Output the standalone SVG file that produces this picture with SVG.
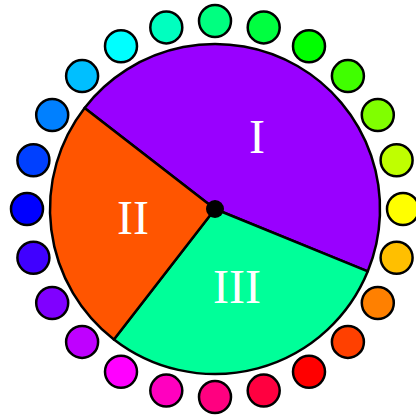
<svg xmlns="http://www.w3.org/2000/svg" width="416" height="418" viewBox="0 0 416 418">
<style>
.dot{stroke:#000;stroke-width:2.5}
.sec{stroke:#000;stroke-width:2.5;stroke-linejoin:round}
.lbl{font-family:"Liberation Serif","Times New Roman",serif;font-size:48px;fill:#fff;text-anchor:middle}
</style>
<rect width="416" height="418" fill="#fff"/>
<g id="ring">
<circle class="dot" cx="403" cy="209" r="16" fill="#ffff00"/>
<circle class="dot" cx="396.6" cy="257.7" r="16" fill="#ffbf00"/>
<circle class="dot" cx="377.8" cy="303" r="16" fill="#ff8000"/>
<circle class="dot" cx="347.9" cy="341.9" r="16" fill="#ff4000"/>
<circle class="dot" cx="309" cy="371.8" r="16" fill="#ff0000"/>
<circle class="dot" cx="263.7" cy="390.6" r="16" fill="#ff0040"/>
<circle class="dot" cx="215" cy="397" r="16" fill="#ff0080"/>
<circle class="dot" cx="166.3" cy="390.6" r="16" fill="#ff00bf"/>
<circle class="dot" cx="121" cy="371.8" r="16" fill="#ff00ff"/>
<circle class="dot" cx="82.1" cy="341.9" r="16" fill="#bf00ff"/>
<circle class="dot" cx="52.2" cy="303" r="16" fill="#8000ff"/>
<circle class="dot" cx="33.4" cy="257.7" r="16" fill="#4000ff"/>
<circle class="dot" cx="27" cy="209" r="16" fill="#0000ff"/>
<circle class="dot" cx="33.4" cy="160.3" r="16" fill="#0040ff"/>
<circle class="dot" cx="52.2" cy="115" r="16" fill="#0080ff"/>
<circle class="dot" cx="82.1" cy="76.1" r="16" fill="#00bfff"/>
<circle class="dot" cx="121" cy="46.2" r="16" fill="#00ffff"/>
<circle class="dot" cx="166.3" cy="27.4" r="16" fill="#00ffbf"/>
<circle class="dot" cx="215" cy="21" r="16" fill="#00ff80"/>
<circle class="dot" cx="263.7" cy="27.4" r="16" fill="#00ff40"/>
<circle class="dot" cx="309" cy="46.2" r="16" fill="#00ff00"/>
<circle class="dot" cx="347.9" cy="76.1" r="16" fill="#40ff00"/>
<circle class="dot" cx="377.8" cy="115" r="16" fill="#80ff00"/>
<circle class="dot" cx="396.6" cy="160.3" r="16" fill="#bfff00"/>
</g>
<g id="sector-I">
<path class="sec" fill="#9900ff" d="M215,209 L84.6,107.9 A165,165 0 0 1 367.8,271.3 Z"/>
<text class="lbl" x="257" y="153">I</text>
</g>
<g id="sector-III">
<path class="sec" fill="#00ff99" d="M215,209 L367.8,271.3 A165,165 0 0 1 113.9,339.4 Z"/>
<text class="lbl" x="237" y="303">III</text>
</g>
<g id="sector-II">
<path class="sec" fill="#ff5500" d="M215,209 L113.9,339.4 A165,165 0 0 1 84.6,107.9 Z"/>
<text class="lbl" x="133" y="234">II</text>
</g>
<g id="hub">
<circle cx="215" cy="209" r="9" fill="#000"/>
</g>
</svg>
